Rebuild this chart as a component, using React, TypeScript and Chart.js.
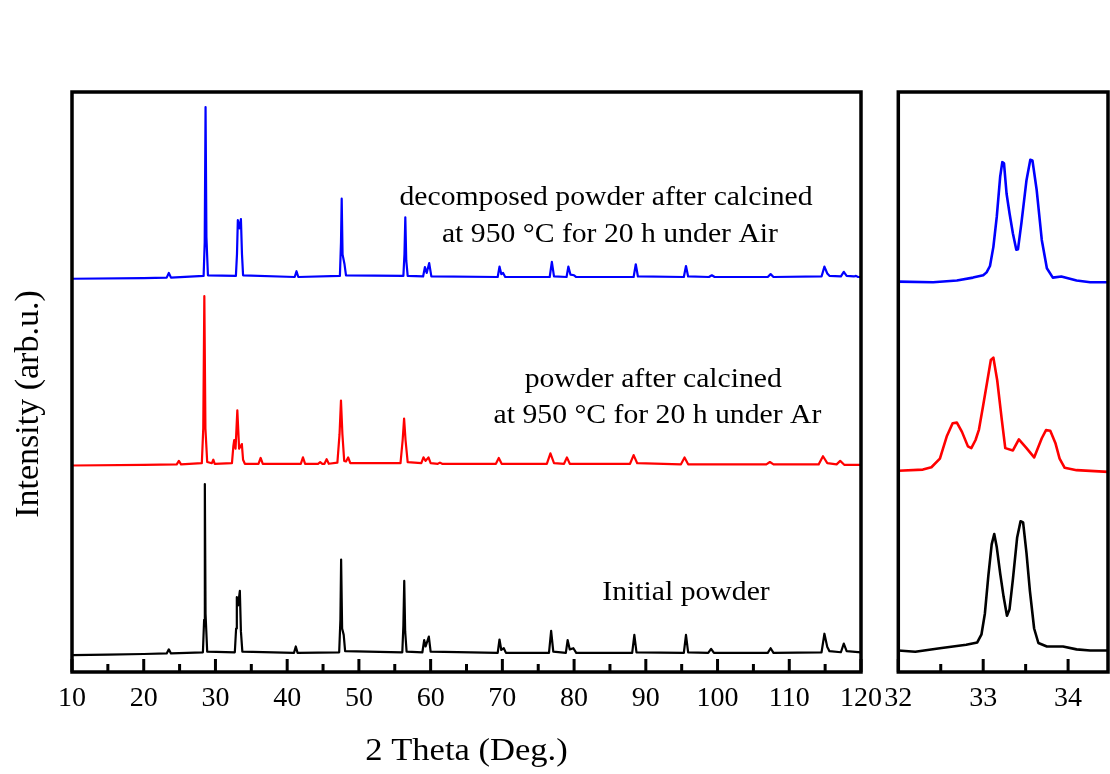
import { useEffect, useRef } from "react";
import { Chart, registerables } from "chart.js";

Chart.register(...registerables);

type P = [number, number];

const FONT = '"Liberation Serif", "Times New Roman", serif';

// ---- tick values ----
const wideTicks = [10, 20, 30, 40, 50, 60, 70, 80, 90, 100, 110, 120];
const wideMinorTicks = [15, 25, 35, 45, 55, 65, 75, 85, 95, 105, 115];
const zoomTicks = [32, 33, 34];
const zoomMinorTicks = [32.5, 33.5];

// ---- wide scan (2θ, stacked intensity in arb. units) ----
const initialWide: P[] = [
  [10, 2.9], [15, 3.0], [20, 3.1], [23.2, 3.2], [23.5, 3.9], [23.8, 3.2],
  [28.25, 3.4], [28.42, 9], [28.52, 32.4], [28.62, 10], [28.85, 3.5],
  [32.7, 3.4], [32.88, 7.5], [32.98, 12.9], [33.15, 11.5], [33.4, 14.0], [33.55, 7], [33.75, 3.5],
  [40.95, 3.3], [41.2, 4.4], [41.45, 3.3],
  [47.25, 3.4], [47.42, 9], [47.52, 19.4], [47.66, 7.5], [47.88, 6.4], [48.08, 3.6],
  [56.05, 3.4], [56.2, 8], [56.32, 15.7], [56.45, 7], [56.65, 3.5],
  [58.85, 3.4], [59.1, 5.5], [59.3, 4.4], [59.75, 6.1], [60.0, 3.5],
  [69.35, 3.3], [69.6, 5.6], [69.85, 3.8], [70.2, 4.1], [70.5, 3.3],
  [76.5, 3.3], [76.8, 7.1], [77.1, 3.5],
  [78.85, 3.3], [79.1, 5.5], [79.4, 3.9], [79.9, 4.1], [80.3, 3.3],
  [88.1, 3.3], [88.4, 6.4], [88.7, 3.4],
  [95.3, 3.3], [95.6, 6.4], [95.9, 3.4],
  [98.7, 3.3], [99.1, 4.0], [99.5, 3.3],
  [107.0, 3.3], [107.4, 4.1], [107.8, 3.3],
  [114.5, 3.4], [114.9, 6.6], [115.3, 4.3], [115.6, 3.6],
  [117.2, 3.4], [117.6, 4.9], [118.0, 3.6], [120, 3.4],
];

const arWide: P[] = [
  [10, 35.6], [20, 35.7], [24.6, 35.8], [24.9, 36.4], [25.2, 35.8],
  [28.1, 36.0], [28.3, 42], [28.45, 64.8], [28.6, 42], [28.85, 36.2], [29.5, 36.0], [29.7, 36.6], [29.9, 35.9],
  [32.3, 36.0], [32.5, 39.0], [32.62, 40.0], [32.8, 38.5], [33.05, 45.1], [33.3, 38.5], [33.45, 38.8], [33.68, 39.3], [33.85, 36.6], [34.1, 35.9],
  [36.0, 35.9], [36.3, 36.9], [36.6, 35.9],
  [41.9, 35.9], [42.2, 37.0], [42.5, 35.9],
  [44.3, 35.9], [44.6, 36.2], [44.9, 35.9], [45.2, 35.9], [45.5, 36.7], [45.8, 35.9],
  [47.0, 36.1], [47.3, 41], [47.5, 46.8], [47.7, 41], [47.95, 36.4], [48.2, 36.3], [48.5, 37.0], [48.8, 36.0],
  [55.8, 36.0], [56.1, 40], [56.3, 43.7], [56.5, 40], [56.8, 36.2],
  [58.7, 36.0], [59.0, 37.0], [59.3, 36.4], [59.7, 37.0], [60.0, 36.0],
  [61.0, 35.9], [61.3, 36.1], [61.6, 35.9],
  [69.1, 35.9], [69.5, 36.9], [69.9, 35.9],
  [76.2, 35.9], [76.7, 37.7], [77.2, 36.0],
  [78.6, 35.9], [79.0, 37.0], [79.4, 35.9],
  [87.8, 35.9], [88.3, 37.4], [88.8, 36.0],
  [94.9, 35.8], [95.4, 37.0], [95.9, 35.8],
  [106.8, 35.8], [107.3, 36.2], [107.8, 35.8],
  [114.1, 35.8], [114.7, 37.2], [115.3, 36.0],
  [116.6, 35.8], [117.1, 36.4], [117.7, 35.7], [120, 35.7],
];

const airWide: P[] = [
  [10, 67.8], [20, 67.9], [23.2, 68.0], [23.5, 68.8], [23.8, 68.0],
  [28.35, 68.3], [28.5, 74], [28.62, 97.4], [28.74, 75], [28.95, 68.4],
  [32.85, 68.3], [33.0, 72], [33.12, 77.9], [33.35, 76.5], [33.55, 78.1], [33.7, 72], [33.85, 68.4],
  [41.05, 68.1], [41.3, 69.1], [41.55, 68.1],
  [47.35, 68.3], [47.5, 74], [47.6, 81.6], [47.72, 72], [47.98, 70.4], [48.2, 68.4],
  [56.2, 68.3], [56.35, 72], [56.47, 78.4], [56.6, 71], [56.8, 68.3],
  [58.95, 68.2], [59.2, 69.8], [59.45, 68.8], [59.8, 70.5], [60.1, 68.2],
  [69.35, 68.1], [69.6, 69.9], [69.85, 68.6], [70.1, 68.8], [70.4, 68.1],
  [76.6, 68.1], [76.9, 70.7], [77.2, 68.2],
  [78.95, 68.1], [79.2, 69.9], [79.5, 68.5], [80.0, 68.4], [80.3, 68.1],
  [88.3, 68.1], [88.6, 70.3], [88.9, 68.2],
  [95.3, 68.1], [95.6, 70.0], [95.9, 68.2],
  [98.8, 68.1], [99.2, 68.4], [99.6, 68.1],
  [107.0, 68.1], [107.4, 68.6], [107.8, 68.1],
  [114.5, 68.2], [114.9, 69.9], [115.3, 68.7], [115.6, 68.3],
  [117.2, 68.2], [117.6, 69.0], [118.0, 68.3], [119.0, 68.2], [119.3, 68.3], [119.6, 68.1], [120, 68.1],
];

// ---- zoomed scan 32–34.5° ----
const initialZoom: P[] = [
  [32.0, 3.7], [32.2, 3.5], [32.49, 4.1], [32.8, 4.7], [32.93, 5.1], [32.98, 6.5], [33.02, 10.1], [33.06, 16.5],
  [33.1, 22.0], [33.13, 23.8], [33.16, 21.5], [33.2, 17.0], [33.24, 13.0], [33.28, 9.7], [33.31, 10.8],
  [33.35, 16.0], [33.4, 23.2], [33.44, 26.0], [33.47, 25.8], [33.51, 20.5], [33.55, 14.0], [33.6, 7.5],
  [33.65, 5.0], [33.75, 4.4], [33.94, 4.4], [34.1, 3.9], [34.26, 3.7], [34.47, 3.7],
];

const arZoom: P[] = [
  [32.0, 34.7], [32.29, 34.9], [32.39, 35.3], [32.49, 36.8], [32.57, 40.6], [32.64, 42.9], [32.69, 43.0],
  [32.75, 41.4], [32.82, 38.9], [32.86, 38.6], [32.91, 40.0], [32.95, 41.8], [33.0, 46.0], [33.05, 50.3],
  [33.09, 53.8], [33.12, 54.2], [33.165, 50.3], [33.22, 43.4], [33.26, 38.6], [33.35, 38.2], [33.42, 40.1],
  [33.51, 38.6], [33.6, 37.0], [33.69, 40.3], [33.74, 41.7], [33.79, 41.6], [33.85, 39.5], [33.9, 36.8],
  [33.96, 35.2], [34.1, 34.8], [34.47, 34.5],
];

const airZoom: P[] = [
  [32.0, 67.3], [32.41, 67.2], [32.69, 67.5], [32.88, 68.0], [33.0, 68.4], [33.04, 68.9], [33.08, 70.0],
  [33.12, 73.3], [33.16, 78.5], [33.2, 85.4], [33.225, 87.9], [33.245, 87.7], [33.275, 82.5], [33.31, 79.1],
  [33.35, 75.6], [33.39, 72.8], [33.41, 72.9], [33.45, 77.4], [33.51, 84.8], [33.555, 88.3], [33.58, 88.2],
  [33.63, 83.1], [33.69, 74.5], [33.75, 69.6], [33.82, 68.0], [33.92, 68.2], [34.1, 67.5], [34.26, 67.2],
  [34.47, 67.2],
];

// ---- text ----
const airLabel = ["decomposed powder after calcined", "at 950 °C for 20 h under Air"];
const airLabelAt: P[] = [[84.45, 80.5], [85.0, 74.2]];
const arLabel = ["powder after calcined", "at 950 °C for 20 h under Ar"];
const arLabelAt: P[] = [[91.04, 49.2], [91.63, 42.9]];
const initialLabel = ["Initial powder"];
const initialLabelAt: P[] = [[95.6, 12.4]];
const xTitle = "2 Theta (Deg.)";
const yTitle = "Intensity (arb.u.)";

const BLACK = "#000000";
const RED = "#ff0000";
const BLUE = "#0000ff";

function ds(points: P[], color: string, width: number) {
  return {
    data: points.map(([x, y]) => ({ x, y })),
    borderColor: color,
    backgroundColor: color,
    borderWidth: width,
    pointRadius: 0,
    tension: 0,
    fill: false,
    borderJoinStyle: "round" as const,
  };
}

function drawText(ctx: CanvasRenderingContext2D, text: string, x: number, y: number, size: number, sx: number) {
  ctx.save();
  ctx.translate(x, y);
  ctx.scale(sx, 1);
  ctx.font = `${size}px ${FONT}`;
  ctx.fillStyle = "#000";
  ctx.textAlign = "center";
  ctx.textBaseline = "alphabetic";
  ctx.fillText(text, 0, 0);
  ctx.restore();
}

function framePlugin(major: number[], minor: number[]) {
  return {
    id: "frameTicks",
    afterDraw(chart: any) {
      const { ctx, chartArea: a } = chart;
      const x = chart.scales.x;
      ctx.save();
      ctx.strokeStyle = "#000";
      ctx.lineCap = "butt";
      ctx.lineWidth = 3;
      ctx.beginPath();
      for (const v of major) {
        const px = x.getPixelForValue(v);
        ctx.moveTo(px, a.bottom);
        ctx.lineTo(px, a.bottom - 13);
      }
      for (const v of minor) {
        const px = x.getPixelForValue(v);
        ctx.moveTo(px, a.bottom);
        ctx.lineTo(px, a.bottom - 8);
      }
      ctx.stroke();
      ctx.lineWidth = 3.5;
      ctx.strokeRect(a.left, a.top, a.right - a.left, a.bottom - a.top);
      ctx.restore();
    },
  };
}

const textPlugin = {
  id: "texts",
  afterDraw(chart: any) {
    const { ctx, chartArea: a } = chart;
    const x = chart.scales.x;
    const y = chart.scales.y;
    const groups: [string[], P[]][] = [
      [airLabel, airLabelAt],
      [arLabel, arLabelAt],
      [initialLabel, initialLabelAt],
    ];
    for (const [lines, at] of groups) {
      lines.forEach((t, i) => {
        drawText(ctx, t, x.getPixelForValue(at[i][0]), y.getPixelForValue(at[i][1]), 27, 1.1);
      });
    }
    drawText(ctx, xTitle, (a.left + a.right) / 2, a.bottom + 88, 32, 1.08);
    ctx.save();
    ctx.translate(29, y.getPixelForValue(46.2));
    ctx.rotate(-Math.PI / 2);
    ctx.font = `34px ${FONT}`;
    ctx.fillStyle = "#000";
    ctx.textAlign = "center";
    ctx.textBaseline = "middle";
    ctx.fillText(yTitle, 0, 0);
    ctx.restore();
  },
};

function xAxis(min: number, max: number, ticks: number[]) {
  return {
    type: "linear" as const,
    min,
    max,
    grid: { display: false, drawTicks: false },
    border: { display: false },
    ticks: {
      font: { size: 28, family: FONT },
      color: "#000",
      padding: 10,
      autoSkip: false,
      maxRotation: 0,
      minRotation: 0,
      includeBounds: false,
    },
    afterBuildTicks: (s: any) => {
      s.ticks = ticks.map((v) => ({ value: v }));
    },
    afterFit: (s: any) => {
      s.height = 102;
    },
  };
}

function makeConfig(datasets: any[], min: number, max: number, ticks: number[], minor: number[], padding: any, plugins: any[]) {
  return {
    type: "line" as const,
    data: { datasets },
    options: {
      responsive: false,
      animation: false as const,
      devicePixelRatio: 1,
      layout: { padding },
      plugins: { legend: { display: false }, tooltip: { enabled: false } },
      scales: {
        x: xAxis(min, max, ticks),
        y: { type: "linear" as const, min: 0, max: 100, display: false },
      },
    },
    plugins: [framePlugin(ticks, minor), ...plugins],
  };
}

export default function App() {
  const leftRef = useRef<HTMLCanvasElement>(null);
  const rightRef = useRef<HTMLCanvasElement>(null);

  useEffect(() => {
    const left = new Chart(
      leftRef.current!,
      makeConfig(
        [ds(initialWide, BLACK, 2.2), ds(arWide, RED, 2.2), ds(airWide, BLUE, 2.2)],
        10, 120, wideTicks, wideMinorTicks,
        { left: 72, top: 92, right: 39, bottom: 0 },
        [textPlugin]
      ) as any
    );
    const right = new Chart(
      rightRef.current!,
      makeConfig(
        [ds(initialZoom, BLACK, 2.6), ds(arZoom, RED, 2.6), ds(airZoom, BLUE, 2.6)],
        32, 34.47, zoomTicks, zoomMinorTicks,
        { left: 28.3, top: 92, right: 2, bottom: 0 },
        []
      ) as any
    );
    return () => {
      left.destroy();
      right.destroy();
    };
  }, []);

  return (
    <div style={{ position: "absolute", left: 0, top: 0, width: 1110, height: 774, background: "#fff", overflow: "hidden" }}>
      <canvas ref={leftRef} width={900} height={774} style={{ position: "absolute", left: 0, top: 0, width: 900, height: 774 }} />
      <canvas ref={rightRef} width={240} height={774} style={{ position: "absolute", left: 870, top: 0, width: 240, height: 774 }} />
    </div>
  );
}
